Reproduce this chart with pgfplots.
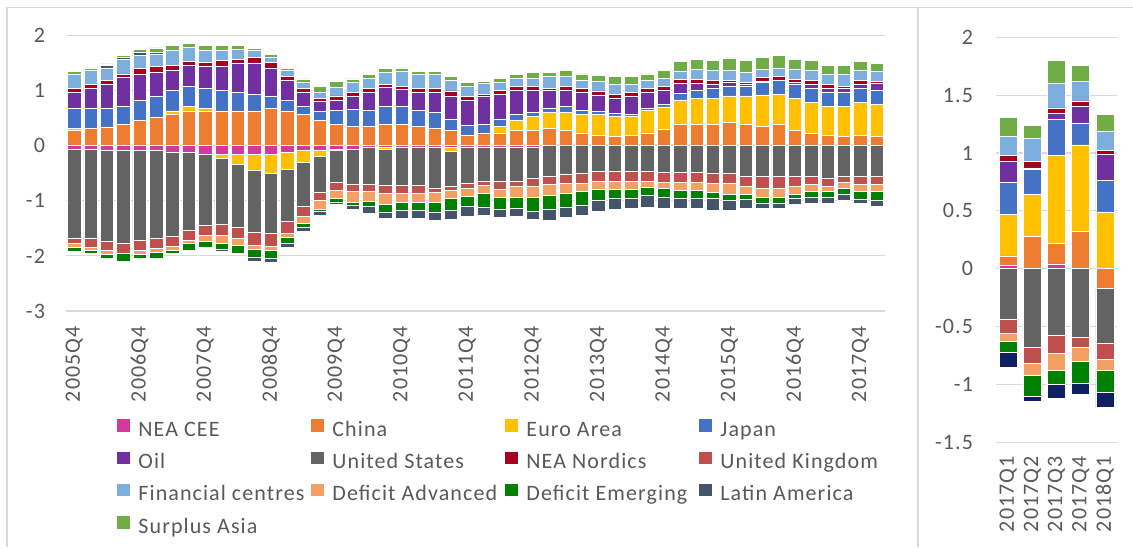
\documentclass[border=0pt]{standalone}
\usepackage{fontspec}
\setmainfont{Carlito}[LetterSpace=5]
\usepackage{pgfplots}
\usepackage{pgfplotstable}
\pgfplotsset{compat=1.18}

\definecolor{txt}{HTML}{595959}
\definecolor{gridc}{HTML}{D9D9D9}
\definecolor{cCEE}{HTML}{D13A9A}
\definecolor{cCHN}{HTML}{ED7D31}
\definecolor{cEA}{HTML}{FFC000}
\definecolor{cJPN}{HTML}{4472C4}
\definecolor{cOIL}{HTML}{7030A0}
\definecolor{cUS}{HTML}{636363}
\definecolor{cNOR}{HTML}{A50021}
\definecolor{cUK}{HTML}{C0504D}
\definecolor{cFIN}{HTML}{7CAFDD}
\definecolor{cDA}{HTML}{F4A064}
\definecolor{cDE}{HTML}{008000}
\definecolor{cLAT}{HTML}{44546A}
\definecolor{cLATR}{HTML}{0E2063}
\definecolor{cSA}{HTML}{70AD47}

% left panel, positive contributions (2005Q4 = 0 ... 2018Q1 = 49)
\pgfplotstableread{
n CHN EA JPN OIL NOR FIN LAT SA
0 0.27 0.04 0.37 0.29 0.06 0.27 0 0.04
1 0.31 0 0.37 0.36 0.07 0.26 0 0.04
2 0.34 0 0.34 0.44 0.06 0.23 0.04 0.03
3 0.38 0 0.34 0.51 0.07 0.26 0.04 0.03
4 0.45 0 0.37 0.48 0.10 0.23 0.07 0.04
5 0.52 0 0.37 0.44 0.10 0.23 0.04 0.07
6 0.56 0.07 0.37 0.36 0.10 0.26 0 0.09
7 0.63 0.08 0.37 0.37 0.07 0.26 0 0.08
8 0.63 0.05 0.36 0.40 0.07 0.22 0 0.08
9 0.63 0 0.37 0.44 0.10 0.19 0 0.08
10 0.63 0 0.33 0.54 0.07 0.18 0 0.06
11 0.63 0 0.30 0.57 0.10 0.12 0 0.04
12 0.68 0 0.21 0.51 0.11 0.10 0 0.04
13 0.63 0 0.19 0.36 0.07 0.11 0 0.04
14 0.56 0 0.15 0.25 0.07 0.12 0 0.06
15 0.45 0 0.18 0.17 0.05 0.12 0 0.10
16 0.38 0 0.26 0.19 0.07 0.15 0 0.11
17 0.35 0 0.30 0.24 0.07 0.19 0 0.06
18 0.35 0 0.29 0.33 0.07 0.18 0 0.07
19 0.38 0 0.34 0.33 0.06 0.22 0 0.07
20 0.38 0 0.34 0.30 0.06 0.26 0 0.07
21 0.35 0 0.29 0.33 0.07 0.26 0 0.04
22 0.31 0 0.29 0.37 0.07 0.26 0 0.04
23 0.27 0 0.21 0.41 0.10 0.19 0 0.07
24 0.19 0 0.18 0.45 0.07 0.18 0 0.07
25 0.23 0 0.15 0.51 0.04 0.20 0 0.04
26 0.23 0.12 0.12 0.46 0.07 0.15 0 0.07
27 0.27 0.18 0.11 0.44 0.07 0.15 0 0.07
28 0.27 0.26 0.07 0.40 0.07 0.15 0 0.11
29 0.31 0.29 0.07 0.33 0.04 0.22 0 0.07
30 0.27 0.33 0.11 0.29 0.07 0.18 0 0.11
31 0.23 0.34 0.07 0.33 0.07 0.15 0 0.11
32 0.19 0.37 0.07 0.29 0.07 0.18 0 0.11
33 0.16 0.37 0.05 0.28 0.07 0.19 0 0.14
34 0.19 0.35 0.02 0.33 0.07 0.15 0 0.14
35 0.23 0.41 0.04 0.29 0.07 0.15 0 0.11
36 0.30 0.40 0.04 0.26 0.07 0.15 0 0.15
37 0.38 0.45 0.11 0.19 0.07 0.15 0 0.18
38 0.38 0.48 0.15 0.12 0.07 0.18 0 0.18
39 0.38 0.48 0.18 0.08 0.06 0.19 0 0.18
40 0.42 0.48 0.18 0.07 0.03 0.19 0 0.22
41 0.38 0.52 0.18 0.04 0.03 0.18 0 0.22
42 0.35 0.57 0.22 0.02 0.07 0.15 0 0.22
43 0.38 0.55 0.26 0 0.07 0.15 0 0.22
44 0.27 0.59 0.26 0.02 0.06 0.19 0 0.18
45 0.22 0.56 0.26 0.08 0.06 0.19 0 0.18
46 0.19 0.52 0.26 0.07 0.07 0.19 0 0.15
47 0.16 0.55 0.26 0.07 0.04 0.22 0 0.15
48 0.19 0.59 0.26 0.08 0.06 0.19 0 0.15
49 0.16 0.59 0.26 0.12 0.03 0.18 0 0.15
}\posL

% left panel, negative contributions
\pgfplotstableread{
n CEE EA US UK DA DE LAT
0 -0.06 0 -1.62 -0.10 -0.07 -0.07 0
1 -0.06 0 -1.63 -0.16 -0.04 -0.07 0
2 -0.09 0 -1.65 -0.15 -0.08 -0.07 0
3 -0.09 0 -1.69 -0.18 0 -0.14 0
4 -0.09 0 -1.62 -0.18 -0.08 -0.07 0
5 -0.09 0 -1.59 -0.18 -0.07 -0.11 0
6 -0.13 0 -1.51 -0.18 -0.07 -0.07 0
7 -0.13 0 -1.40 -0.18 -0.07 -0.11 0
8 -0.16 0 -1.28 -0.19 -0.10 -0.11 0
9 -0.16 -0.07 -1.20 -0.20 -0.14 -0.11 -0.04
10 -0.16 -0.18 -1.14 -0.21 -0.12 -0.14 -0.03
11 -0.16 -0.29 -1.13 -0.23 -0.07 -0.15 -0.07
12 -0.16 -0.34 -1.09 -0.23 -0.07 -0.15 -0.07
13 -0.13 -0.30 -0.95 -0.21 -0.08 -0.11 -0.07
14 -0.09 -0.22 -0.80 -0.18 -0.12 -0.07 -0.07
15 -0.09 -0.11 -0.65 -0.15 -0.15 -0.04 -0.07
16 -0.06 -0.03 -0.57 -0.15 -0.15 -0.07 -0.04
17 -0.06 0 -0.65 -0.12 -0.19 -0.07 -0.06
18 -0.04 0 -0.67 -0.11 -0.19 -0.10 -0.11
19 -0.04 -0.03 -0.65 -0.15 -0.19 -0.15 -0.11
20 -0.04 0 -0.68 -0.15 -0.15 -0.15 -0.15
21 -0.04 0 -0.68 -0.15 -0.15 -0.15 -0.15
22 -0.04 0 -0.74 -0.06 -0.19 -0.18 -0.15
23 -0.04 -0.07 -0.62 -0.08 -0.15 -0.22 -0.15
24 -0.04 0 -0.65 -0.08 -0.15 -0.19 -0.18
25 -0.04 0 -0.61 -0.07 -0.15 -0.25 -0.15
26 -0.03 0 -0.61 -0.15 -0.15 -0.21 -0.15
27 -0.03 0 -0.61 -0.10 -0.19 -0.21 -0.15
28 -0.03 0 -0.56 -0.15 -0.19 -0.26 -0.15
29 0 0 -0.56 -0.15 -0.19 -0.25 -0.20
30 0 0 -0.52 -0.16 -0.18 -0.26 -0.18
31 0 0 -0.50 -0.18 -0.15 -0.26 -0.18
32 0 0 -0.46 -0.18 -0.15 -0.21 -0.19
33 0 0 -0.46 -0.19 -0.15 -0.15 -0.21
34 0 0 -0.46 -0.19 -0.15 -0.15 -0.18
35 0 0 -0.46 -0.19 -0.10 -0.15 -0.22
36 0 0 -0.48 -0.18 -0.12 -0.15 -0.21
37 0 0 -0.48 -0.18 -0.15 -0.15 -0.18
38 0 0 -0.48 -0.18 -0.15 -0.15 -0.18
39 0 0 -0.51 -0.18 -0.15 -0.11 -0.22
40 0 0 -0.51 -0.18 -0.19 -0.11 -0.18
41 0 0 -0.55 -0.18 -0.15 -0.10 -0.15
42 0 0 -0.55 -0.23 -0.15 -0.11 -0.10
43 0 0 -0.55 -0.23 -0.15 -0.11 -0.10
44 0 0 -0.55 -0.18 -0.15 -0.07 -0.11
45 0 0 -0.55 -0.15 -0.12 -0.11 -0.11
46 0 0 -0.59 -0.15 -0.08 -0.11 -0.11
47 0 0 -0.55 -0.12 -0.11 -0.11 -0.10
48 0 0 -0.55 -0.15 -0.12 -0.15 -0.07
49 0 0 -0.55 -0.15 -0.12 -0.18 -0.11
}\negL

% right panel (2017Q1 ... 2018Q1)
\pgfplotstableread{
n CEE CHN EA JPN OIL NOR FIN SA
0 0.03 0.08 0.36 0.28 0.18 0.05 0.16 0.17
1 0 0.28 0.36 0.22 0.01 0.06 0.20 0.11
2 0.04 0.18 0.76 0.31 0.05 0.05 0.21 0.20
3 0 0.32 0.75 0.19 0.14 0.05 0.17 0.14
4 0 0 0.49 0.27 0.23 0.03 0.17 0.14
}\posR
\pgfplotstableread{
n CHN US UK DA DE LAT
0 0 -0.44 -0.12 -0.07 -0.09 -0.13
1 0 -0.68 -0.14 -0.10 -0.18 -0.05
2 0 -0.58 -0.15 -0.15 -0.12 -0.12
3 0 -0.59 -0.09 -0.12 -0.19 -0.10
4 -0.17 -0.48 -0.13 -0.10 -0.19 -0.13
}\negR

\pgfplotsset{
  panel/.style={
    scale only axis,
    ybar stacked,
    axis line style={draw=none},
    tick style={draw=none},
    ymajorgrids,
    grid style={gridc, line width=0.6pt},
    /pgf/number format/assume math mode=true,
    tick label style={font=\fontsize{11}{13}\selectfont, text=txt},
    xticklabel style={rotate=90, anchor=east},
    every axis plot/.append style={draw=white, line width=0.3pt},
  },
  leftpanel/.style={panel, width=409.5pt, height=137.85pt,
    xmin=-0.5, xmax=49.5, ymin=-3, ymax=2, bar width=0.82,
    at={(33pt,-17.65pt)}, anchor=north west},
  rightpanel/.style={panel, width=60.5pt, height=202.4pt,
    xmin=-0.5, xmax=4.5, ymin=-1.5, ymax=2, bar width=0.75,
    at={(498pt,-18.65pt)}, anchor=north west},
  sq/.style={legend image code/.code={\fill[##1, draw=none] (0pt,-0.6pt) rectangle (6.5pt,5.6pt);}},
}

\newcommand{\lbox}[1]{\makebox[86.5pt][l]{#1}}

\begin{document}
\begin{tikzpicture}[font=\fontsize{11}{13}\selectfont, text=txt]
\path[use as bounding box] (0pt,0pt) rectangle (566.5pt,-273.5pt);

% ---------- left panel: positive stack + grid + labels + legend
\begin{axis}[leftpanel,
  ytick={-3,-2,-1,0,1,2},
  yticklabel style={xshift=-7pt},
  xtick={0,4,...,48},
  xticklabels={2005Q4,2006Q4,2007Q4,2008Q4,2009Q4,2010Q4,2011Q4,2012Q4,2013Q4,2014Q4,2015Q4,2016Q4,2017Q4},
  xticklabel style={xshift=-4pt},
  legend columns=4,
  legend cell align=left,
  legend style={draw=none, fill=none, inner sep=0pt, at={(0.0623,-0.392)}, anchor=north west,
    font=\fontsize{11}{13}\selectfont, text=txt, row sep=5.3pt,
    nodes={inner sep=0pt, text height=8pt, text depth=2.5pt},
    /tikz/every odd column/.append style={column sep=4pt}},
]
\addplot[fill=cCHN, forget plot] table[x=n,y=CHN]{\posL};
\addplot[fill=cEA, forget plot] table[x=n,y=EA]{\posL};
\addplot[fill=cJPN, forget plot] table[x=n,y=JPN]{\posL};
\addplot[fill=cOIL, forget plot] table[x=n,y=OIL]{\posL};
\addplot[fill=cNOR, forget plot] table[x=n,y=NOR]{\posL};
\addplot[fill=cFIN, forget plot] table[x=n,y=FIN]{\posL};
\addplot[fill=cLAT, forget plot] table[x=n,y=LAT]{\posL};
\addplot[fill=cSA, forget plot] table[x=n,y=SA]{\posL};

\addlegendimage{sq, fill=cCEE}\addlegendentry{\lbox{NEA CEE}}
\addlegendimage{sq, fill=cCHN}\addlegendentry{\lbox{China}}
\addlegendimage{sq, fill=cEA}\addlegendentry{\lbox{Euro Area}}
\addlegendimage{sq, fill=cJPN}\addlegendentry{\lbox{Japan}}
\addlegendimage{sq, fill=cOIL}\addlegendentry{\lbox{Oil}}
\addlegendimage{sq, fill=cUS}\addlegendentry{\lbox{United States}}
\addlegendimage{sq, fill=cNOR}\addlegendentry{\lbox{NEA Nordics}}
\addlegendimage{sq, fill=cUK}\addlegendentry{\lbox{United Kingdom}}
\addlegendimage{sq, fill=cFIN}\addlegendentry{\lbox{Financial centres}}
\addlegendimage{sq, fill=cDA}\addlegendentry{\lbox{Deficit Advanced}}
\addlegendimage{sq, fill=cDE}\addlegendentry{\lbox{Deficit Emerging}}
\addlegendimage{sq, fill=cLAT}\addlegendentry{\lbox{Latin America}}
\addlegendimage{sq, fill=cSA}\addlegendentry{\lbox{Surplus Asia}}
\end{axis}

% ---------- left panel: negative stack
\begin{axis}[leftpanel, hide axis]
\addplot[fill=cCEE] table[x=n,y=CEE]{\negL};
\addplot[fill=cEA] table[x=n,y=EA]{\negL};
\addplot[fill=cUS] table[x=n,y=US]{\negL};
\addplot[fill=cUK] table[x=n,y=UK]{\negL};
\addplot[fill=cDA] table[x=n,y=DA]{\negL};
\addplot[fill=cDE] table[x=n,y=DE]{\negL};
\addplot[fill=cLAT] table[x=n,y=LAT]{\negL};
\end{axis}

% ---------- right panel: positive stack + grid + labels
\begin{axis}[rightpanel,
  ytick={-1.5,-1,-0.5,0,0.5,1,1.5,2},
  yticklabel style={xshift=-8pt},
  xtick={0,1,2,3,4},
  xticklabels={2017Q1,2017Q2,2017Q3,2017Q4,2018Q1},
  xticklabel style={xshift=-3.5pt},
]
\addplot[fill=cCEE] table[x=n,y=CEE]{\posR};
\addplot[fill=cCHN] table[x=n,y=CHN]{\posR};
\addplot[fill=cEA] table[x=n,y=EA]{\posR};
\addplot[fill=cJPN] table[x=n,y=JPN]{\posR};
\addplot[fill=cOIL] table[x=n,y=OIL]{\posR};
\addplot[fill=cNOR] table[x=n,y=NOR]{\posR};
\addplot[fill=cFIN] table[x=n,y=FIN]{\posR};
\addplot[fill=cSA] table[x=n,y=SA]{\posR};
\end{axis}

% ---------- right panel: negative stack
\begin{axis}[rightpanel, hide axis]
\addplot[fill=cCHN] table[x=n,y=CHN]{\negR};
\addplot[fill=cUS] table[x=n,y=US]{\negR};
\addplot[fill=cUK] table[x=n,y=UK]{\negR};
\addplot[fill=cDA] table[x=n,y=DA]{\negR};
\addplot[fill=cDE] table[x=n,y=DE]{\negR};
\addplot[fill=cLATR] table[x=n,y=LAT]{\negR};
\end{axis}

% chart frames
\draw[gridc, line width=0.75pt] (3.4pt,-273.5pt) -- (3.4pt,-3.65pt) -- (566.5pt,-3.65pt);
\draw[gridc, line width=0.9pt] (458.8pt,-3.65pt) -- (458.8pt,-273.5pt);
\end{tikzpicture}
\end{document}
